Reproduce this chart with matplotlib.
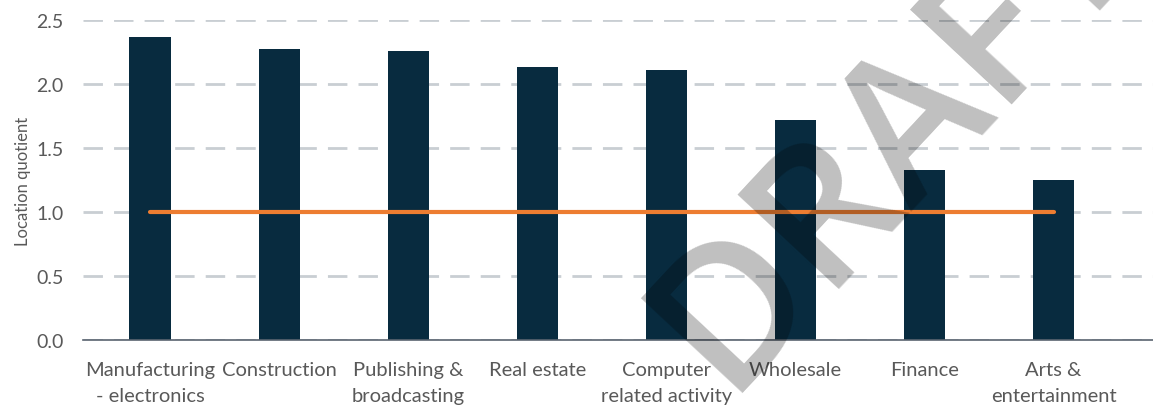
import matplotlib.pyplot as plt
import numpy as np

# Location quotients by industry
categories = ['Manufacturing\n- electronics', 'Construction', 'Publishing &\nbroadcasting',
              'Real estate', 'Computer\nrelated activity', 'Wholesale', 'Finance',
              'Arts &\nentertainment']
lq_values = [2.37, 2.27, 2.26, 2.13, 2.11, 1.72, 1.33, 1.25]
baseline = [1.0] * len(categories)
y_ticks = [0.0, 0.5, 1.0, 1.5, 2.0, 2.5]

plt.rcParams['font.family'] = ['Lato', 'DejaVu Sans']

fig = plt.figure(figsize=(11.53, 4.10), dpi=100)
ax = fig.add_axes([0.072, 0.168, 0.928, 0.781])

x = np.arange(len(categories))
ax.bar(x, lq_values, width=0.32, color='#082b3f', zorder=2)
ax.plot(x, baseline, color='#ed7d31', linewidth=3, solid_capstyle='round', zorder=3)

ax.set_xlim(-0.52, 7.77)
ax.set_ylim(0, 2.5)
ax.set_yticks(y_ticks)
ax.set_yticklabels([f'{v:.1f}' for v in y_ticks])
ax.set_xticks(x)
ax.set_xticklabels(categories, fontsize=14.5, color='#595959', linespacing=1.65)
ax.tick_params(axis='y', labelsize=14, labelcolor='#595959', length=0, pad=14)
ax.tick_params(axis='x', length=0, pad=15)
ax.set_ylabel('Location quotient', fontsize=12, color='#595959', labelpad=4)

ax.grid(axis='y', color='#c9ced3', linewidth=2, linestyle=(0, (7, 4)), zorder=0)
ax.set_axisbelow(True)
for side in ['top', 'right', 'left']:
    ax.spines[side].set_visible(False)
ax.spines['bottom'].set_color('#5a6470')
ax.spines['bottom'].set_linewidth(1.2)
ax.spines['bottom'].set_zorder(4)

# watermark
fig.text(895 / 1153, 1 - 135 / 410, 'DRAFT', fontsize=140, color='black', alpha=0.25,
         rotation=47, rotation_mode='anchor', ha='center', va='center',
         family='Open Sans', fontweight='semibold', zorder=10)

fig.savefig('out.png', dpi=100)
